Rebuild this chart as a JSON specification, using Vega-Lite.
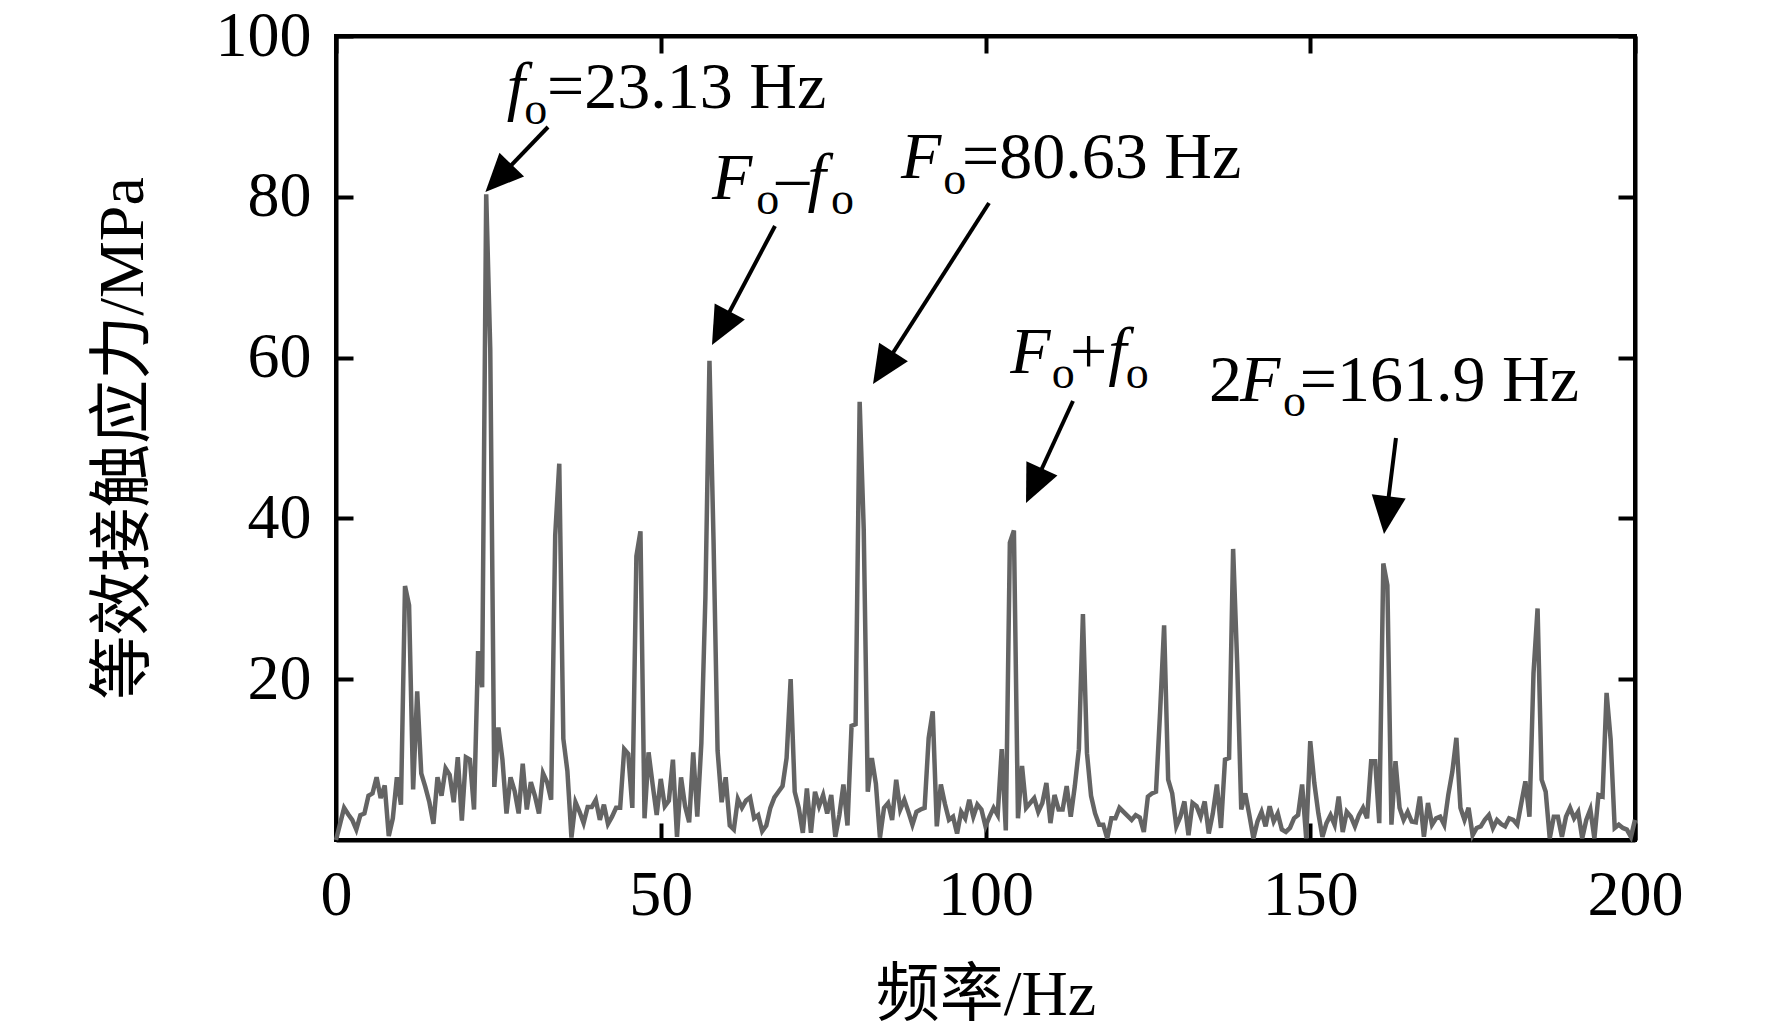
{
  "$schema": "https://vega.github.io/schema/vega-lite/v6.json",
  "width": 1299,
  "height": 804,
  "autosize": {"type": "none"},
  "padding": {"left": 336, "top": 36, "right": 137, "bottom": 196},
  "background": "white",
  "config": {
    "view": {"stroke": "black", "strokeWidth": 4},
    "axis": {
      "grid": false,
      "domainColor": "black",
      "domainWidth": 4,
      "tickColor": "black",
      "tickWidth": 4,
      "tickSize": -17,
      "labelFont": "Liberation Serif",
      "labelFontSize": 64,
      "labelColor": "black",
      "labelFlush": false,
      "titleFont": "Liberation Serif, Noto Sans CJK SC",
      "titleFontSize": 64,
      "titleFontWeight": "normal",
      "titleColor": "black"
    },
    "axisX": {"labelPadding": 40, "titlePadding": 36},
    "axisY": {"labelPadding": 42, "titlePadding": 60}
  },
  "datasets": {
    "spec": [
      {"f":0,"s":0},{"f":0.625,"s":2},{"f":1.25,"s":4},{"f":1.875,"s":3.2},{"f":2.5,"s":2.5},{"f":3.125,"s":1.3},{"f":3.75,"s":3.1},{"f":4.375,"s":3.3},
      {"f":5,"s":5.5},{"f":5.625,"s":5.8},{"f":6.25,"s":7.8},{"f":6.875,"s":5.2},{"f":7.5,"s":6.8},{"f":8.125,"s":0.5},{"f":8.75,"s":2.7},{"f":9.375,"s":7.8},
      {"f":10,"s":4.4},{"f":10.625,"s":31.6},{"f":11.25,"s":29.2},{"f":11.875,"s":6.3},{"f":12.5,"s":18.5},{"f":13.125,"s":8.3},{"f":13.75,"s":6.6},{"f":14.375,"s":4.7},
      {"f":15,"s":2},{"f":15.625,"s":7.8},{"f":16.25,"s":5.5},{"f":16.875,"s":8.9},{"f":17.5,"s":8.1},{"f":18.125,"s":4.7},{"f":18.75,"s":10.3},{"f":19.375,"s":2.4},
      {"f":20,"s":10.3},{"f":20.625,"s":10},{"f":21.25,"s":3.8},{"f":21.875,"s":23.5},{"f":22.5,"s":19},{"f":23.125,"s":80.3},{"f":23.75,"s":61},{"f":24.375,"s":6.6},
      {"f":25,"s":14},{"f":25.625,"s":10},{"f":26.25,"s":3.3},{"f":26.875,"s":7.8},{"f":27.5,"s":6.1},{"f":28.125,"s":3.3},{"f":28.75,"s":9.5},{"f":29.375,"s":3.8},
      {"f":30,"s":7.2},{"f":30.625,"s":5.5},{"f":31.25,"s":3.3},{"f":31.875,"s":8.3},{"f":32.5,"s":7.2},{"f":33.125,"s":5},{"f":33.75,"s":37.9},{"f":34.375,"s":46.8},
      {"f":35,"s":12.6},{"f":35.625,"s":8.6},{"f":36.25,"s":0.3},{"f":36.875,"s":4.7},{"f":37.5,"s":3.5},{"f":38.125,"s":2.1},{"f":38.75,"s":4.1},{"f":39.375,"s":4.1},
      {"f":40,"s":5},{"f":40.625,"s":2.5},{"f":41.25,"s":4.4},{"f":41.875,"s":2},{"f":42.5,"s":2.9},{"f":43.125,"s":4},{"f":43.75,"s":4},{"f":44.375,"s":11.3},
      {"f":45,"s":10.7},{"f":45.625,"s":4},{"f":46.25,"s":35.3},{"f":46.875,"s":38.4},{"f":47.5,"s":2.7},{"f":48.125,"s":10.9},{"f":48.75,"s":6.9},{"f":49.375,"s":3.1},
      {"f":50,"s":7.6},{"f":50.625,"s":4.2},{"f":51.25,"s":4.9},{"f":51.875,"s":10},{"f":52.5,"s":0.4},{"f":53.125,"s":7.8},{"f":53.75,"s":4.2},{"f":54.375,"s":2.2},
      {"f":55,"s":10.9},{"f":55.625,"s":2.9},{"f":56.25,"s":12},{"f":56.875,"s":30.2},{"f":57.5,"s":59.6},{"f":58.125,"s":37.3},{"f":58.75,"s":11.1},{"f":59.375,"s":4.7},
      {"f":60,"s":7.8},{"f":60.625,"s":1.8},{"f":61.25,"s":1.3},{"f":61.875,"s":5.1},{"f":62.5,"s":4},{"f":63.125,"s":4.9},{"f":63.75,"s":5.3},{"f":64.375,"s":2.7},
      {"f":65,"s":3.1},{"f":65.625,"s":1.1},{"f":66.25,"s":1.8},{"f":66.875,"s":4},{"f":67.5,"s":5.3},{"f":68.125,"s":6},{"f":68.75,"s":6.7},{"f":69.375,"s":10.2},
      {"f":70,"s":20},{"f":70.625,"s":6},{"f":71.25,"s":4},{"f":71.875,"s":0.9},{"f":72.5,"s":6.4},{"f":73.125,"s":0.9},{"f":73.75,"s":6},{"f":74.375,"s":4.2},
      {"f":75,"s":5.6},{"f":75.625,"s":3.3},{"f":76.25,"s":5.6},{"f":76.875,"s":0.4},{"f":77.5,"s":3.1},{"f":78.125,"s":6.9},{"f":78.75,"s":1.8},{"f":79.375,"s":14.2},
      {"f":80,"s":14.4},{"f":80.625,"s":54.5},{"f":81.25,"s":38.7},{"f":81.875,"s":6},{"f":82.5,"s":10.2},{"f":83.125,"s":7},{"f":83.75,"s":0.3},{"f":84.375,"s":4},
      {"f":85,"s":4.6},{"f":85.625,"s":2.5},{"f":86.25,"s":7.5},{"f":86.875,"s":3.8},{"f":87.5,"s":5},{"f":88.125,"s":3.5},{"f":88.75,"s":1.9},{"f":89.375,"s":3.5},
      {"f":90,"s":3.8},{"f":90.625,"s":4},{"f":91.25,"s":12.7},{"f":91.875,"s":16},{"f":92.5,"s":1.7},{"f":93.125,"s":6.9},{"f":93.75,"s":4.5},{"f":94.375,"s":2.5},
      {"f":95,"s":2.9},{"f":95.625,"s":0.8},{"f":96.25,"s":3.5},{"f":96.875,"s":2.7},{"f":97.5,"s":5},{"f":98.125,"s":2.9},{"f":98.75,"s":4.4},{"f":99.375,"s":3.8},
      {"f":100,"s":1.7},{"f":100.625,"s":2.9},{"f":101.25,"s":4},{"f":101.875,"s":3.1},{"f":102.5,"s":11.3},{"f":103.125,"s":1.2},{"f":103.75,"s":37},{"f":104.375,"s":38.5},
      {"f":105,"s":2.7},{"f":105.625,"s":9.2},{"f":106.25,"s":4},{"f":106.875,"s":4.6},{"f":107.5,"s":5.2},{"f":108.125,"s":3.5},{"f":108.75,"s":4.6},{"f":109.375,"s":7.1},
      {"f":110,"s":2.1},{"f":110.625,"s":5.6},{"f":111.25,"s":3.8},{"f":111.875,"s":3.8},{"f":112.5,"s":6.7},{"f":113.125,"s":2.9},{"f":113.75,"s":6.7},{"f":114.375,"s":11.3},
      {"f":115,"s":28.1},{"f":115.625,"s":10.8},{"f":116.25,"s":5.5},{"f":116.875,"s":3.3},{"f":117.5,"s":1.9},{"f":118.125,"s":1.9},{"f":118.75,"s":0.2},{"f":119.375,"s":2.7},
      {"f":120,"s":2.7},{"f":120.625,"s":4},{"f":121.25,"s":3.5},{"f":121.875,"s":3},{"f":122.5,"s":2.5},{"f":123.125,"s":3.1},{"f":123.75,"s":2.8},{"f":124.375,"s":1},
      {"f":125,"s":5.4},{"f":125.625,"s":5.8},{"f":126.25,"s":6},{"f":126.875,"s":15.8},{"f":127.5,"s":26.7},{"f":128.125,"s":7.5},{"f":128.75,"s":5.8},{"f":129.375,"s":1.7},
      {"f":130,"s":2.9},{"f":130.625,"s":4.8},{"f":131.25,"s":0.6},{"f":131.875,"s":4.6},{"f":132.5,"s":4.2},{"f":133.125,"s":2.9},{"f":133.75,"s":4.8},{"f":134.375,"s":0.8},
      {"f":135,"s":3.3},{"f":135.625,"s":6.9},{"f":136.25,"s":1.5},{"f":136.875,"s":10},{"f":137.5,"s":10.2},{"f":138.125,"s":36.2},{"f":138.75,"s":22},{"f":139.375,"s":3.8},
      {"f":140,"s":5.8},{"f":140.625,"s":3.1},{"f":141.25,"s":0.2},{"f":141.875,"s":2.3},{"f":142.5,"s":3.5},{"f":143.125,"s":1.7},{"f":143.75,"s":4.2},{"f":144.375,"s":2.3},
      {"f":145,"s":3.3},{"f":145.625,"s":1.3},{"f":146.25,"s":1},{"f":146.875,"s":1.5},{"f":147.5,"s":2.7},{"f":148.125,"s":3.1},{"f":148.75,"s":6.9},{"f":149.375,"s":0.2},
      {"f":150,"s":12.3},{"f":150.625,"s":7.1},{"f":151.25,"s":3.3},{"f":151.875,"s":0.4},{"f":152.5,"s":2.1},{"f":153.125,"s":3.1},{"f":153.75,"s":1.9},{"f":154.375,"s":5.4},
      {"f":155,"s":1},{"f":155.625,"s":3.5},{"f":156.25,"s":2.9},{"f":156.875,"s":1.7},{"f":157.5,"s":3.1},{"f":158.125,"s":4},{"f":158.75,"s":2.7},{"f":159.375,"s":9.8},
      {"f":160,"s":9.8},{"f":160.625,"s":2.1},{"f":161.25,"s":34.4},{"f":161.875,"s":31.7},{"f":162.5,"s":1.9},{"f":163.125,"s":9.8},{"f":163.75,"s":4},{"f":164.375,"s":2.5},
      {"f":165,"s":3.5},{"f":165.625,"s":2.3},{"f":166.25,"s":2.2},{"f":166.875,"s":5.4},{"f":167.5,"s":0.4},{"f":168.125,"s":4.6},{"f":168.75,"s":1.9},{"f":169.375,"s":2.7},
      {"f":170,"s":2.9},{"f":170.625,"s":1.9},{"f":171.25,"s":5.6},{"f":171.875,"s":8.5},{"f":172.5,"s":12.7},{"f":173.125,"s":4},{"f":173.75,"s":2.5},{"f":174.375,"s":4},
      {"f":175,"s":0.6},{"f":175.625,"s":1.5},{"f":176.25,"s":1.7},{"f":176.875,"s":2.5},{"f":177.5,"s":3.1},{"f":178.125,"s":1.5},{"f":178.75,"s":2.5},{"f":179.375,"s":2},
      {"f":180,"s":1.7},{"f":180.625,"s":2.7},{"f":181.25,"s":2.5},{"f":181.875,"s":1.9},{"f":182.5,"s":4.6},{"f":183.125,"s":7.3},{"f":183.75,"s":2.9},{"f":184.375,"s":20.8},
      {"f":185,"s":28.8},{"f":185.625,"s":7.5},{"f":186.25,"s":6},{"f":186.875,"s":0.2},{"f":187.5,"s":2.9},{"f":188.125,"s":2.9},{"f":188.75,"s":0.4},{"f":189.375,"s":2.9},
      {"f":190,"s":4},{"f":190.625,"s":2.7},{"f":191.25,"s":3.5},{"f":191.875,"s":0.2},{"f":192.5,"s":2.5},{"f":193.125,"s":3.8},{"f":193.75,"s":0.2},{"f":194.375,"s":5.6},
      {"f":195,"s":5.4},{"f":195.625,"s":18.3},{"f":196.25,"s":12.5},{"f":196.875,"s":1.5},{"f":197.5,"s":1.9},{"f":198.125,"s":1.5},{"f":198.75,"s":1.3},{"f":199.375,"s":0.4},
      {"f":200,"s":2.5}
    ],
    "notes": [
      {"x":26.3,"y":91.0,"t":"f","k":"it"},
      {"x":29.0,"y":89.1,"t":"o","k":"sub"},
      {"x":32.5,"y":91.0,"t":"=23.13 Hz","k":"rm"},
      {"x":57.9,"y":79.7,"t":"F","k":"it"},
      {"x":64.7,"y":77.8,"t":"o","k":"sub"},
      {"x":67.8,"y":79.7,"t":"–","k":"rm"},
      {"x":72.6,"y":79.7,"t":"f","k":"it"},
      {"x":76.2,"y":77.8,"t":"o","k":"sub"},
      {"x":87.0,"y":82.3,"t":"F","k":"it"},
      {"x":93.5,"y":80.4,"t":"o","k":"sub"},
      {"x":96.4,"y":82.3,"t":"=80.63 Hz","k":"rm"},
      {"x":103.8,"y":58.1,"t":"F","k":"it"},
      {"x":110.2,"y":56.2,"t":"o","k":"sub"},
      {"x":113.0,"y":58.1,"t":"+","k":"rm"},
      {"x":118.9,"y":58.1,"t":"f","k":"it"},
      {"x":121.6,"y":56.2,"t":"o","k":"sub"},
      {"x":134.4,"y":54.6,"t":"2","k":"rm"},
      {"x":139.2,"y":54.6,"t":"F","k":"it"},
      {"x":145.8,"y":52.7,"t":"o","k":"sub"},
      {"x":148.4,"y":54.6,"t":"=161.9 Hz","k":"rm"}
    ],
    "arrows": [
      {"tx":32.64,"ty":88.68,"hx":23.0,"hy":80.6},
      {"tx":67.59,"ty":76.37,"hx":57.89,"hy":61.57},
      {"tx":100.54,"ty":79.23,"hx":82.68,"hy":56.72},
      {"tx":113.47,"ty":54.6,"hx":106.24,"hy":41.92},
      {"tx":163.2,"ty":50.0,"hx":161.36,"hy":38.06}
    ]
  },
  "layer": [
    {
      "data": {"name": "spec"},
      "mark": {"type": "line", "color": "#646464", "strokeWidth": 4.5},
      "encoding": {
        "x": {
          "field": "f", "type": "quantitative",
          "scale": {"domain": [0, 200], "nice": false},
          "axis": {"orient": "bottom", "values": [0, 50, 100, 150, 200], "title": "频率/Hz"}
        },
        "y": {
          "field": "s", "type": "quantitative",
          "scale": {"domain": [0, 100], "nice": false},
          "axis": {"orient": "left", "values": [20, 40, 60, 80, 100], "title": "等效接触应力/MPa"}
        }
      }
    },
    {
      "data": {"name": "spec"},
      "mark": {"type": "line", "opacity": 0},
      "encoding": {
        "x": {
          "field": "f", "type": "quantitative",
          "axis": {"orient": "top", "values": [0, 50, 100, 150, 200], "labels": false, "title": null}
        },
        "y": {
          "field": "s", "type": "quantitative",
          "axis": {"orient": "right", "values": [20, 40, 60, 80, 100], "labels": false, "title": null}
        }
      }
    },
    {
      "data": {"name": "arrows"},
      "transform": [
        {"calculate": "sqrt(pow((datum.hx - datum.tx) * 6.495, 2) + pow((datum.hy - datum.ty) * 8.04, 2))", "as": "len"},
        {"calculate": "datum.hx - (datum.hx - datum.tx) * 30 / datum.len", "as": "bx"},
        {"calculate": "datum.hy - (datum.hy - datum.ty) * 30 / datum.len", "as": "by"}
      ],
      "mark": {"type": "rule", "color": "black", "strokeWidth": 4},
      "encoding": {
        "x": {"field": "tx", "type": "quantitative", "axis": null},
        "y": {"field": "ty", "type": "quantitative", "axis": null},
        "x2": {"field": "bx"},
        "y2": {"field": "by"}
      }
    },
    {
      "data": {"name": "arrows"},
      "transform": [
        {"calculate": "atan2((datum.hx - datum.tx) * 6.495, (datum.hy - datum.ty) * 8.04) * 180 / PI", "as": "ang"}
      ],
      "mark": {"type": "point", "shape": "M0,0L0.9,2L-0.9,2Z", "filled": true, "color": "black", "opacity": 1, "size": 1444},
      "encoding": {
        "x": {"field": "hx", "type": "quantitative", "axis": null},
        "y": {"field": "hy", "type": "quantitative", "axis": null},
        "angle": {"field": "ang", "type": "quantitative", "scale": null}
      }
    },
    {
      "data": {"name": "notes"},
      "transform": [{"filter": "datum.k == 'it'"}],
      "mark": {"type": "text", "align": "left", "baseline": "alphabetic", "font": "Liberation Serif", "fontSize": 66, "fontStyle": "italic", "color": "black"},
      "encoding": {
        "x": {"field": "x", "type": "quantitative", "axis": null},
        "y": {"field": "y", "type": "quantitative", "axis": null},
        "text": {"field": "t"}
      }
    },
    {
      "data": {"name": "notes"},
      "transform": [{"filter": "datum.k == 'rm'"}],
      "mark": {"type": "text", "align": "left", "baseline": "alphabetic", "font": "Liberation Serif", "fontSize": 66, "color": "black"},
      "encoding": {
        "x": {"field": "x", "type": "quantitative", "axis": null},
        "y": {"field": "y", "type": "quantitative", "axis": null},
        "text": {"field": "t"}
      }
    },
    {
      "data": {"name": "notes"},
      "transform": [{"filter": "datum.k == 'sub'"}],
      "mark": {"type": "text", "align": "left", "baseline": "alphabetic", "font": "Liberation Serif", "fontSize": 46, "color": "black"},
      "encoding": {
        "x": {"field": "x", "type": "quantitative", "axis": null},
        "y": {"field": "y", "type": "quantitative", "axis": null},
        "text": {"field": "t"}
      }
    }
  ],
  "resolve": {"axis": {"x": "independent", "y": "independent"}}
}
